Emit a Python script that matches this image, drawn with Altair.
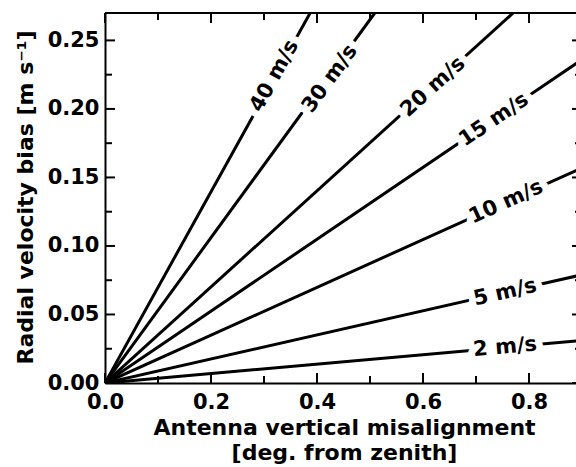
import math
import altair as alt
import pandas as pd

# ---- data ----
speeds = [2, 5, 10, 15, 20, 30, 40]
speed_labels = ["2 m/s", "5 m/s", "10 m/s", "15 m/s", "20 m/s", "30 m/s", "40 m/s"]
# end point of each straight line (misalignment in deg, bias in m/s)
end_x = [0.9, 0.9, 0.9, 0.9, 0.770, 0.509, 0.387]
end_y = [0.031, 0.079, 0.157, 0.236, 0.27, 0.27, 0.27]
# centre of each in-line label
label_x = [0.755, 0.755, 0.757, 0.734, 0.619, 0.4245, 0.320]
label_y = [0.026, 0.066, 0.132, 0.192, 0.216, 0.222, 0.224]

x_major = [0.0, 0.2, 0.4, 0.6, 0.8]
x_minor = [0.1, 0.3, 0.5, 0.7]
y_major = [0.0, 0.05, 0.10, 0.15, 0.20, 0.25]
y_minor = [0.025, 0.075, 0.125, 0.175, 0.225]

# ---- layout ----
W, H = 471, 370
XMAX, YMAX = 0.8887, 0.27
FONT = "DejaVu Sans"
FS = 21
TFS = 22

xs = alt.Scale(domain=[0, XMAX], nice=False, zero=False)
ys = alt.Scale(domain=[0, YMAX], nice=False, zero=False)

x_axis = alt.Axis(
    values=x_major, format=".1f", ticks=False, grid=False,
    domainColor="black", domainWidth=2,
    labelFont=FONT, labelFontSize=FS, labelFontWeight="bold", labelColor="black",
    labelFlush=False, labelOverlap=False, labelPadding=8,
    title=["Antenna vertical misalignment", "[deg. from zenith]"],
    titleFont=FONT, titleFontSize=TFS, titleFontWeight="bold", titleColor="black",
    titleLineHeight=25, titleBaseline="top", titleX=239, titleY=34,
)
y_axis = alt.Axis(
    values=y_major, format=".2f", ticks=False, grid=False,
    domainColor="black", domainWidth=2,
    labelFont=FONT, labelFontSize=FS, labelFontWeight="bold", labelColor="black",
    labelFlush=False, labelOverlap=False, labelPadding=6,
    title="Radial velocity bias [m s\u207b\u00b9]",
    titleFont=FONT, titleFontSize=TFS, titleFontWeight="bold", titleColor="black",
    titleAngle=270, titleAlign="center", titleBaseline="alphabetic",
    titleX=-73, titleY=184,
)

def X():
    return alt.X("x:Q", scale=xs, axis=x_axis)

def Y():
    return alt.Y("y:Q", scale=ys, axis=y_axis)

rows = []
for s, ex, ey in zip(speeds, end_x, end_y):
    rows.append({"speed": s, "x": 0.0, "y": 0.0})
    rows.append({"speed": s, "x": ex, "y": ey})
lines_df = pd.DataFrame(rows)

lab_rows = []
for s, t, lx, ly, ex, ey in zip(speeds, speed_labels, label_x, label_y, end_x, end_y):
    slope_px = (ey / ex) * (H / YMAX) / (W / XMAX)
    ang = 360 - math.degrees(math.atan(slope_px))
    lab_rows.append({"speed": s, "label": t, "x": lx, "y": ly, "angle": ang})
labels_df = pd.DataFrame(lab_rows)

lines = alt.Chart(lines_df).mark_line(color="black", strokeWidth=3, clip=True).encode(
    x=X(), y=Y(), detail="speed:N",
)

def xticks(vals, y0, y1):
    return alt.Chart(pd.DataFrame({"x": vals})).mark_rule(color="black", strokeWidth=2).encode(
        x=X(), y=alt.value(y0), y2=alt.value(y1))

def yticks(vals, x0, x1):
    return alt.Chart(pd.DataFrame({"y": vals})).mark_rule(color="black", strokeWidth=2).encode(
        y=Y(), x=alt.value(x0), x2=alt.value(x1))

ticks = [
    xticks(x_major, H, H - 10), xticks(x_minor, H, H - 7),
    xticks(x_major, 0, 10), xticks(x_minor, 0, 7),
    yticks(y_major, 0, 10), yticks(y_minor, 0, 7),
    yticks(y_major, W - 4, W), yticks(y_minor, W - 1, W),
]

top_spine = alt.Chart(pd.DataFrame({"a": [0]})).mark_rule(color="black", strokeWidth=2).encode(
    x=alt.value(0), x2=alt.value(W), y=alt.value(0))

halo = alt.Chart(labels_df).mark_text(
    font=FONT, fontSize=FS, fontWeight="bold", color="white",
    stroke="white", strokeWidth=14, strokeJoin="round", align="center", baseline="middle",
).encode(
    x=X(), y=Y(), angle=alt.Angle("angle:Q", scale=None), text="label:N",
)
texts = alt.Chart(labels_df).mark_text(
    font=FONT, fontSize=FS, fontWeight="bold", color="black",
    align="center", baseline="middle",
).encode(
    x=X(), y=Y(), angle=alt.Angle("angle:Q", scale=None), text="label:N",
)

chart = alt.layer(lines, *ticks, top_spine, halo, texts).properties(
    width=W, height=H,
    autosize=alt.AutoSizeParams(type="none"),
    padding={"left": 105, "top": 13, "right": 0, "bottom": 84},
    background="white",
).configure_view(stroke=None)

chart.save("out.html", embed_options={"renderer": "svg", "actions": False})
